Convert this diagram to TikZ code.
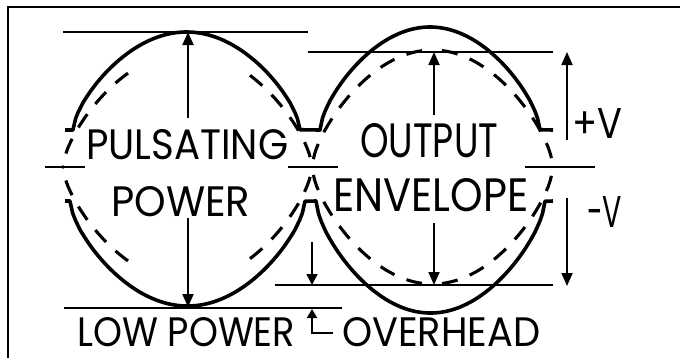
\documentclass[tikz,border=0pt]{standalone}
\usepackage{fontspec}
\setmainfont{Poppins}
\usetikzlibrary{arrows.meta}
\begin{document}
\begin{tikzpicture}[x=1pt,y=-1pt,
  declare function={hump(\u)=pow(max(sin(180*\u),0.0001),0.65);
                    lensL(\v)=115*hump((\v-63)/249);
                    lensR(\v)=117*hump((\v-312)/241);},
  solidc/.style={line width=3.6pt,line join=round},
  dsh/.style={line width=3.1pt,dash pattern=on 16pt off 13pt},
  thin/.style={line width=1.8pt},
  arr/.style={line width=1.8pt,-{Triangle[length=13pt,width=11pt]}},
  sarr/.style={line width=1.8pt,-{Triangle[length=11pt,width=11pt]}},
  tarr/.style={line width=1.8pt,-{Triangle[length=9pt,width=10pt]}},
  txt/.style={anchor=base west,inner sep=0pt}]
\useasboundingbox (0,0) rectangle (680,357);
% frame
\draw[line width=2.6pt] (8,360) -- (8,7) -- (683,7);
% reference lines
\coordinate (l1a) at (63,32);  \coordinate (l1b) at (308,32);
\coordinate (l2a) at (308,52); \coordinate (l2b) at (553,52);
\coordinate (l3a) at (275,285);\coordinate (l3b) at (553,285);
\coordinate (l4a) at (64,308); \coordinate (l4b) at (342,308);
\draw[thin] (l1a) -- (l1b);
\draw[thin] (l2a) -- (l2b);
\draw[thin] (l3a) -- (l3b);
\draw[thin] (l4a) -- (l4b);
% axis pieces
\draw[thin] (45,167) -- (85,167);
\draw[thin] (288,167) -- (338,167);
\draw[thin] (525,167) -- (595,167);
\fill (63,167) circle (1.8);
% dashed envelope, left lens (gaps at top and bottom centre)
\draw[dsh] plot[domain=0:1,variable=\t,samples=40] ({128-65*\t},{167-lensL(128-65*\t)});
\draw[dsh] plot[domain=0:1,variable=\t,samples=40] ({250+62*\t},{167-lensL(250+62*\t)});
\draw[dsh] plot[domain=0:1,variable=\t,samples=40] ({128-65*\t},{167+lensL(128-65*\t)});
\draw[dsh] plot[domain=0:1,variable=\t,samples=40] ({250+62*\t},{167+lensL(250+62*\t)});
% dashed envelope, right lens
\draw[dsh,dash phase=19pt] plot[domain=0:1,variable=\t,samples=50] ({432-120*\t},{167-lensR(432-120*\t)});
\draw[dsh,dash phase=19pt] plot[domain=0:1,variable=\t,samples=50] ({432+121*\t},{167-lensR(432+121*\t)});
\draw[dsh,dash phase=19pt] plot[domain=0:1,variable=\t,samples=50] ({432-120*\t},{167+lensR(432-120*\t)});
\draw[dsh,dash phase=19pt] plot[domain=0:1,variable=\t,samples=50] ({432+121*\t},{167+lensR(432+121*\t)});
% solid pulsating waveform
\draw[solidc] (65,130) -- (73,130)
  -- plot[domain=73:300,samples=90] (\x,{130-98*hump((\x-73)/227)})
  -- (320,130)
  -- plot[domain=320:540,samples=90] (\x,{130-103*hump((\x-320)/220)})
  -- (553,130);
\draw[solidc] (65,201) -- (70,201)
  -- plot[domain=70:305,samples=90] (\x,{201+105*hump((\x-70)/235)})
  -- (316,201)
  -- plot[domain=316:545,samples=90] (\x,{201+112*hump((\x-316)/229)})
  -- (553,201);
% texts
\node[txt] (pulsating) at (86,159) {\resizebox{202pt}{30pt}{PULSATING}};
\node[txt] (power) at (111,216) {\resizebox{139pt}{30pt}{POWER}};
\node[txt] (output) at (360,157) {\resizebox{138pt}{34pt}{OUTPUT}};
\node[txt] (envelope) at (333,211) {\resizebox{195pt}{33pt}{ENVELOPE}};
\node[txt] (plusv) at (572,138) {\resizebox{50pt}{30pt}{+V}};
\node[txt] (minusv) at (587,227) {\resizebox{35pt}{31pt}{-V}};
\node[txt] (lowpower) at (77,346) {\resizebox{218pt}{29pt}{LOW POWER}};
\node[txt] (overhead) at (342,346) {\resizebox{198pt}{29pt}{OVERHEAD}};
% arrows
\coordinate (a1s) at (188,118); \coordinate (a1e) at (188,32);
\coordinate (a2s) at (188,218); \coordinate (a2e) at (188,307);
\coordinate (a3s) at (434,115); \coordinate (a3e) at (434,52);
\coordinate (a4s) at (434,223); \coordinate (a4e) at (434,285);
\coordinate (a5s) at (567,140); \coordinate (a5e) at (567,52);
\coordinate (a6s) at (567,198); \coordinate (a6e) at (567,286);
\coordinate (a7s) at (312,242); \coordinate (a7e) at (312,285);
\coordinate (a8s) at (333,333); \coordinate (a8e) at (312,309);
\draw[arr] (a1s) -- (a1e);
\draw[arr] (a2s) -- (a2e);
\draw[arr] (a3s) -- (a3e);
\draw[arr] (a4s) -- (a4e);
\draw[arr] (a5s) -- (a5e);
\draw[arr] (a6s) -- (a6e);
\draw[sarr] (a7s) -- (a7e);
\draw[tarr] (a8s) -| (a8e);
\end{tikzpicture}
\end{document}
